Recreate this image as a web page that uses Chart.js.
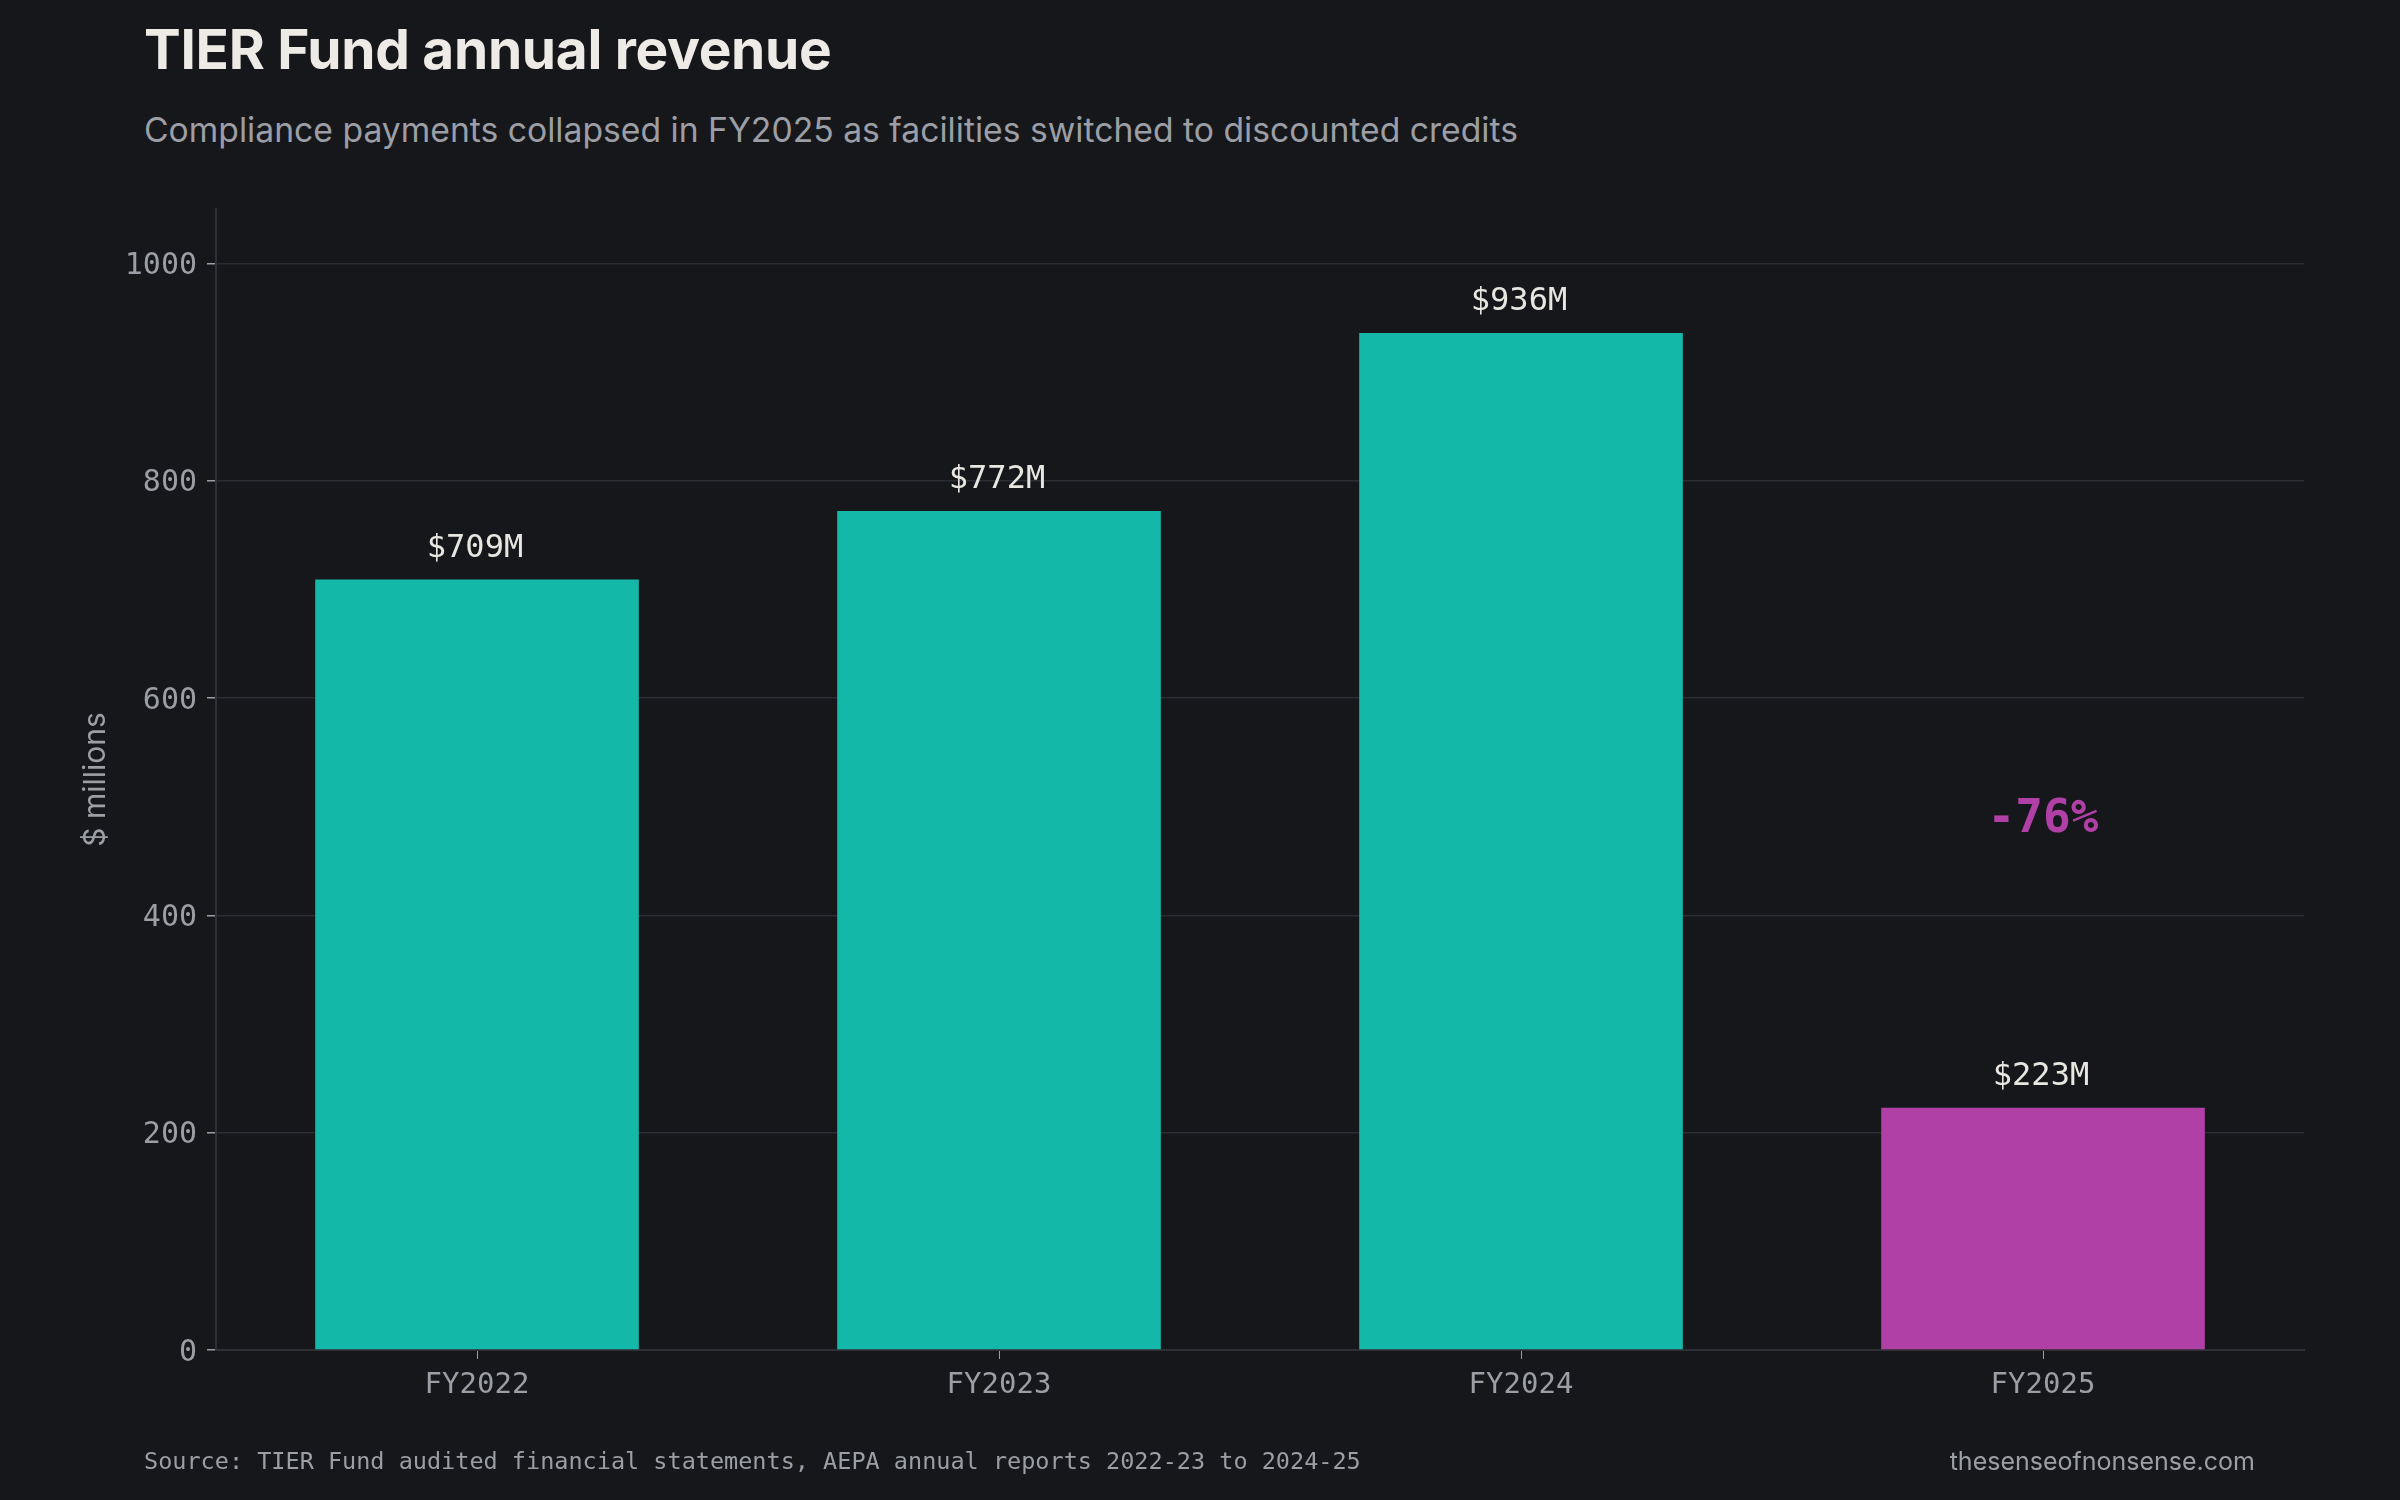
<!DOCTYPE html>
<html>
<head>
<meta charset="utf-8">
<script src="https://cdn.jsdelivr.net/npm/chart.js@4"></script>
<style>
  html, body { margin: 0; padding: 0; background: #16171b; }
  #wrap { position: relative; width: 2400px; height: 1500px; overflow: hidden; }
  #title { position: absolute; left: 144px; top: 16px; font: 700 55px Inter, sans-serif; color: #eeebe6; letter-spacing: -0.3px; line-height: 1.2; }
  #subtitle { position: absolute; left: 144px; top: 110px; font: 400 33.7px Inter, sans-serif; color: #9c9ea5; line-height: 1.2; }
  #source { position: absolute; left: 144px; top: 1447px; font: 400 23.5px "DejaVu Sans Mono", monospace; color: #9c9ea5; }
  #site { position: absolute; right: 145px; top: 1446px; font: 400 25px Inter, sans-serif; color: #9c9ea5; }
  canvas { position: absolute; left: 0; top: 0; }
</style>
</head>
<body>
<div id="wrap">
  <div id="title">TIER Fund annual revenue</div>
  <div id="subtitle">Compliance payments collapsed in FY2025 as facilities switched to discounted credits</div>
  <canvas id="chart" width="2400" height="1500"></canvas>
  <div id="source">Source: TIER Fund audited financial statements, AEPA annual reports 2022-23 to 2024-25</div>
  <div id="site">thesenseofnonsense.com</div>
</div>
<script>
// chart data
const years = ['FY2022', 'FY2023', 'FY2024', 'FY2025'];
const revenue = [709, 772, 936, 223];
const yTicks = [0, 200, 400, 600, 800, 1000];

const teal = '#14b8a8';
const purple = '#b040a6';
const mono = '"DejaVu Sans Mono", monospace';

const barColors = revenue.map((v, i) => i === revenue.length - 1 ? purple : teal);

// value labels above bars + the drop annotation
const labelPlugin = {
  id: 'barLabels',
  afterDatasetsDraw(chart) {
    const ctx = chart.ctx;
    const meta = chart.getDatasetMeta(0);
    ctx.save();
    ctx.textAlign = 'center';
    ctx.textBaseline = 'alphabetic';
    ctx.font = '400 32px ' + mono;
    ctx.fillStyle = '#e8e6e1';
    meta.data.forEach((bar, i) => {
      ctx.fillText('$' + revenue[i] + 'M', bar.x - 2, bar.y - 23);
    });
    // percent change between last two years
    const last = revenue.length - 1;
    const pct = Math.round((revenue[last] - revenue[last - 1]) / revenue[last - 1] * 100);
    ctx.font = '700 46px ' + mono;
    ctx.fillStyle = purple;
    ctx.textBaseline = 'middle';
    ctx.fillText((pct < 0 ? '-' : '+') + Math.abs(pct) + '%', meta.data[last].x, chart.scales.y.getPixelForValue(488));
    ctx.restore();
  }
};

new Chart(document.getElementById('chart'), {
  type: 'bar',
  data: {
    labels: years,
    datasets: [{
      label: 'Revenue',
      data: revenue,
      backgroundColor: barColors,
      borderWidth: 0,
      categoryPercentage: 0.62,
      barPercentage: 1.0
    }]
  },
  options: {
    responsive: false,
    animation: false,
    layout: { padding: { left: 60, right: 96, top: 209, bottom: 90 } },
    plugins: {
      legend: { display: false },
      tooltip: { enabled: false }
    },
    scales: {
      x: {
        grid: { display: true, offset: false, drawOnChartArea: false, drawTicks: true, tickLength: 9, tickColor: '#9c9ea5' },
        border: { display: true, color: '#2e3035', width: 2 },
        ticks: { color: '#9c9ea5', font: { family: mono, size: 29 }, padding: 9 },
        afterFit(scale) { scale.height = 60; }
      },
      y: {
        min: 0,
        max: 1050,
        afterBuildTicks(scale) { scale.ticks = yTicks.map(v => ({ value: v })); },
        grid: { color: '#2b2d32', lineWidth: 1.5, drawTicks: true, tickLength: 9, tickColor: '#9c9ea5' },
        border: { display: true, color: '#2e3035', width: 2 },
        ticks: { color: '#9c9ea5', font: { family: mono, size: 30 }, padding: 10, labelOffset: 3, callback: v => String(v) },
        title: { display: true, text: '$ millions', color: '#9c9ea5', font: { family: 'Inter, sans-serif', size: 30 }, padding: { top: 18, bottom: 0 } },
        afterFit(scale) { scale.width = 156; }
      }
    }
  },
  plugins: [labelPlugin]
});
</script>
</body>
</html>
